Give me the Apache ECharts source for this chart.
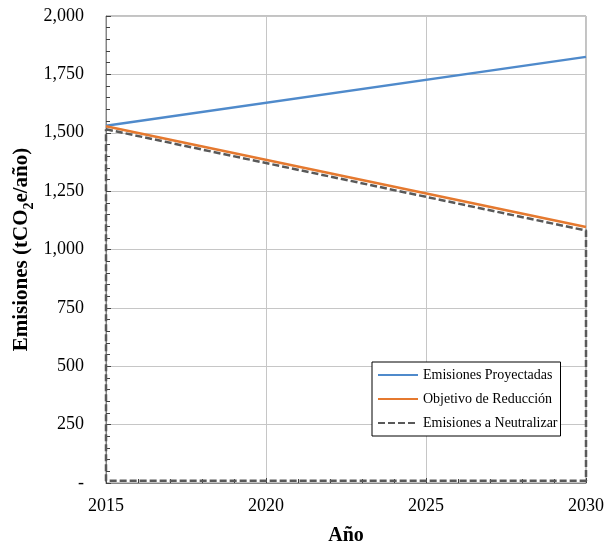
<!DOCTYPE html>
<html>
<head>
<meta charset="utf-8">
<style>
  html, body { margin: 0; padding: 0; background: #fff; }
  #chart { width: 605px; height: 547px; }
</style>
<script src="https://cdn.jsdelivr.net/npm/echarts@6/dist/echarts.min.js"></script>
</head>
<body>
<div id="chart"></div>
<script>
// Emissions path 2015-2030 (tCO2e per year)
const seriesNames = ['Emisiones Proyectadas', 'Objetivo de Reducción', 'Emisiones a Neutralizar'];
const projectedPts = [[2015, 1530], [2030, 1825]];
const targetPts = [[2015, 1528], [2030, 1096]];
// outline of the area to be offset: target edge, right side, floor, left side
const neutralizePts = [[2015, 1515], [2030, 1081], [2030, 10], [2015, 10], [2015, 1515]];
const yearTicks = [2015, 2020, 2025, 2030];
const emissionTicks = [0, 250, 500, 750, 1000, 1250, 1500, 1750, 2000];

const FONT = "'Liberation Serif', 'Times New Roman', serif";

const chart = echarts.init(document.getElementById('chart'), null, { renderer: 'canvas' });

chart.setOption({
  animation: false,
  backgroundColor: '#ffffff',
  textStyle: { fontFamily: FONT },
  grid: {
    left: 106, right: 19, top: 16, bottom: 64,
    containLabel: false,
    outerBoundsMode: 'none',
    show: true,
    borderColor: '#868686',
    borderWidth: 1
  },
  legend: {
    data: seriesNames,
    orient: 'vertical',
    left: 372,
    top: 362,
    itemWidth: 40,
    itemHeight: 12,
    itemGap: 10,
    padding: [6, 3, 6, 5],
    backgroundColor: '#ffffff',
    borderColor: '#000000',
    borderWidth: 1,
    borderRadius: 0,
    itemStyle: { opacity: 0 },
    textStyle: { fontFamily: FONT, fontSize: 14, color: '#000' }
  },
  xAxis: {
    type: 'value',
    min: yearTicks[0],
    max: yearTicks[yearTicks.length - 1],
    interval: 5,
    name: 'Año',
    nameLocation: 'middle',
    nameGap: 43,
    nameMoveOverlap: false,
    nameTextStyle: { fontFamily: FONT, fontSize: 20, fontWeight: 'bold', color: '#000' },
    axisLine: { show: true, lineStyle: { color: '#868686', width: 1 } },
    axisTick: { show: true, inside: true, length: 5, lineStyle: { color: '#404040' } },
    minorTick: { show: true, splitNumber: 5, length: 4, lineStyle: { color: '#404040' } },
    axisLabel: {
      fontFamily: FONT, fontSize: 18, color: '#000', margin: 14,
      formatter: v => String(v)
    },
    splitLine: { show: true, lineStyle: { color: '#c6c6c6', width: 1 } }
  },
  yAxis: {
    type: 'value',
    min: emissionTicks[0],
    max: emissionTicks[emissionTicks.length - 1],
    interval: 250,
    name: '{a|Emisiones (tCO}{s|2}{a|e/año)}',
    nameLocation: 'middle',
    nameGap: 70,
    nameMoveOverlap: false,
    nameTextStyle: {
      rich: {
        a: { fontFamily: FONT, fontSize: 21, fontWeight: 'bold', color: '#000', lineHeight: 28, verticalAlign: 'middle' },
        s: { fontFamily: FONT, fontSize: 14, fontWeight: 'bold', color: '#000', lineHeight: 28, verticalAlign: 'bottom' }
      }
    },
    axisLine: { show: true, lineStyle: { color: '#868686', width: 1 } },
    axisTick: { show: true, inside: true, length: 5, lineStyle: { color: '#404040' } },
    minorTick: { show: true, splitNumber: 5, length: 4, lineStyle: { color: '#404040' } },
    axisLabel: {
      fontFamily: FONT, fontSize: 18, color: '#000', margin: 22,
      formatter: v => (v === 0 ? '-' : v.toLocaleString('en-US'))
    },
    splitLine: { show: true, lineStyle: { color: '#c6c6c6', width: 1 } }
  },
  series: [
    {
      name: seriesNames[0],
      type: 'line',
      data: projectedPts,
      symbol: 'none',
      clip: false,
      lineStyle: { color: '#4f8acb', width: 2.5 },
      itemStyle: { color: '#4f8acb' }
    },
    {
      name: seriesNames[1],
      type: 'line',
      data: targetPts,
      symbol: 'none',
      clip: false,
      lineStyle: { color: '#e5792f', width: 2.5 },
      itemStyle: { color: '#e5792f' }
    },
    {
      name: seriesNames[2],
      type: 'line',
      data: neutralizePts,
      symbol: 'none',
      clip: false,
      lineStyle: { color: '#595959', width: 2.5, type: [7, 3] },
      itemStyle: { color: '#595959' }
    }
  ]
});
</script>
</body>
</html>
